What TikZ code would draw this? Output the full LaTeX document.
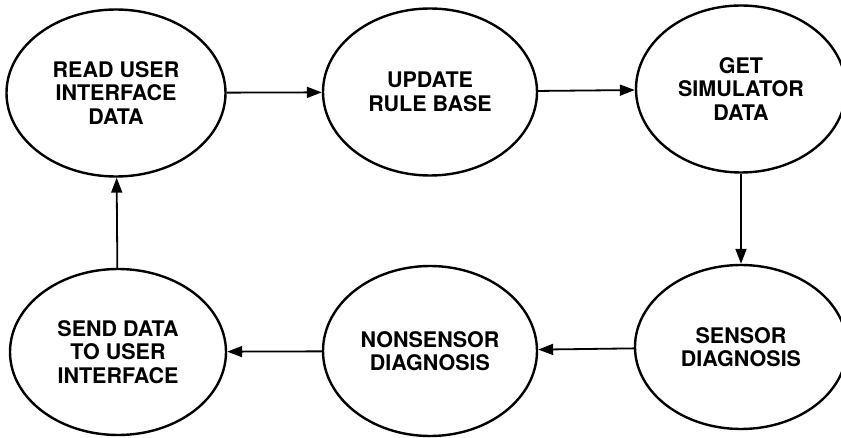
\documentclass[tikz,border=0pt]{standalone}
\usepackage{fontspec}
\setmainfont{TeX Gyre Heros}
\usetikzlibrary{shapes.geometric,arrows.meta}

\begin{document}
\begin{tikzpicture}[x=1pt, y=1pt,
		stage/.style={ellipse, draw, line width=2.4pt, inner sep=0pt, align=center,
			font=\fontsize{21.5}{23.5}\selectfont\bfseries},
		flow/.style={line width=1.8pt, -{Triangle[length=15pt,width=11pt]}}]
				\useasboundingbox (0,0) rectangle (841,437);
				
				\node[stage, minimum width=219, minimum height=167] (read) at (116,344) {READ USER\\INTERFACE\\DATA};
				\node[stage, minimum width=214, minimum height=167] (update) at (430,345) {UPDATE\\RULE BASE};
				\node[stage, minimum width=210, minimum height=167] (get) at (741,348) {GET\\SIMULATOR\\DATA};
				
				\node[stage, minimum width=212, minimum height=164] (sensor) at (741,90) {SENSOR\\DIAGNOSIS};
				\node[stage, minimum width=214, minimum height=170] (nonsensor) at (430,86) {NONSENSOR\\DIAGNOSIS};
				\node[stage, minimum width=216, minimum height=166] (send) at (118,85) {SEND DATA\\TO USER\\INTERFACE};
				
				\draw[flow] (read) -- (update);
				\draw[flow] (update) -- (get);
				\draw[flow] (get) -- (sensor);
				\draw[flow] (sensor) -- (nonsensor);
				\draw[flow] (nonsensor) -- (send);
				\draw[flow] (send) -- (read);
			\end{tikzpicture}
\end{document}
